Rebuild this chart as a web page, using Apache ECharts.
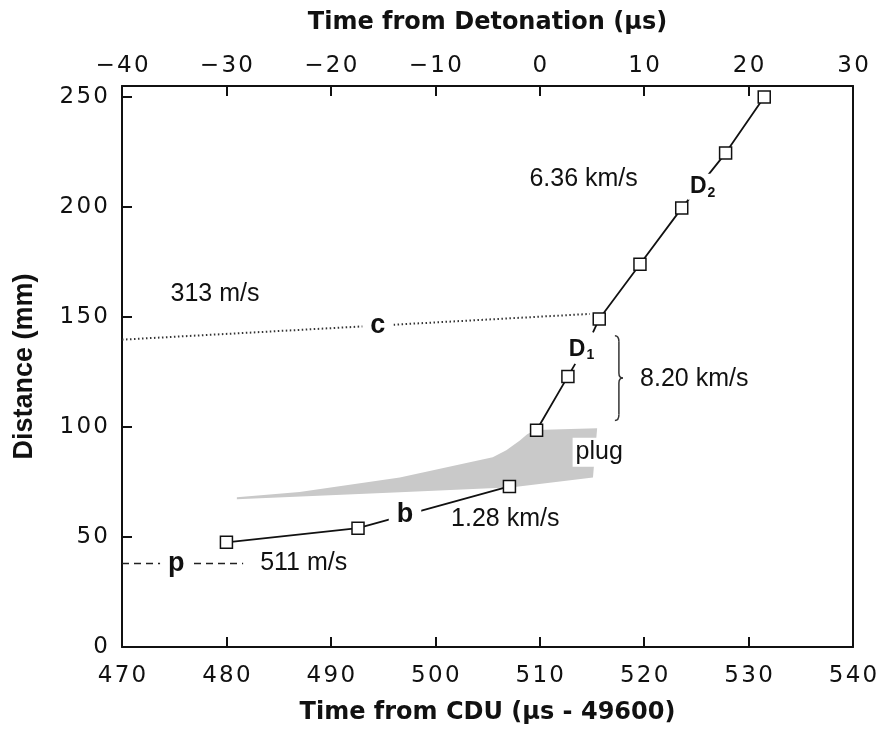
<!DOCTYPE html>
<html>
<head>
<meta charset="utf-8">
<script src="https://cdn.jsdelivr.net/npm/echarts@6/dist/echarts.min.js"></script>
<style>
  html, body { margin: 0; background: #fff; }
  #chart { width: 882px; height: 731px; }
</style>
</head>
<body>
<div id="chart"></div>
<script>
// x: time from CDU (us - 49600), y: distance (mm)
const lowX = [480.0, 492.6, 507.1];
const lowY = [47.6, 54.0, 73.0];
// D1 segment, last point is the stub past the square
const d1X = [509.7, 512.7, 513.4];
const d1Y = [98.5, 123.0, 128.7];
// D2 segment, first point is the stub below the square
const d2X = [515.1, 515.7, 519.6, 523.6, 527.8, 531.5];
const d2Y = [143.0, 149.1, 174.0, 199.5, 224.5, 250.0];
// "p" dashed and "c" dotted trajectories
const pX = [470.0, 481.6];
const pY = [38.0, 38.0];
const cX = [470.0, 514.8];
const cY = [139.7, 151.4];
// grey "plug" band, upper edge left->right then lower edge right->left
const plugTopX = [481.0, 487.0, 496.6, 505.5, 506.8, 508.1, 508.8, 509.6, 515.5];
const plugTopY = [68.1, 70.5, 77.1, 86.2, 89.4, 93.9, 96.7, 98.6, 99.4];
const plugBotX = [515.1, 507.4, 496.6, 481.0];
const plugBotY = [77.1, 72.6, 70.3, 67.2];
// brace next to the D1 segment
const braceX = 517.2;
const braceTop = 141.5;
const braceBot = 103.0;
// annotations
const noteText = ['313 m/s', '6.36 km/s', '8.20 km/s', '1.28 km/s', '511 m/s', 'plug'];
const noteX = [478.9, 514.2, 524.8, 506.7, 487.4, 515.7];
const noteY = [160.2, 212.8, 121.6, 58.1, 38.0, 88.5];
const tagText = ['c', 'b', 'p'];
const tagX = [494.5, 497.1, 475.2];
const tagY = [146.1, 60.2, 38.0];
const dText = ['1', '2'];
const dX = [514.0, 525.6];
const dY = [135.2, 209.2];

const ink = '#111';
const spaced = v => String(v).replace('-', '\u2212').split('').join('\u200a');

const chart = echarts.init(document.getElementById('chart'));

const axisCommon = {
  type: 'value',
  axisLine: { onZero: false, lineStyle: { color: ink, width: 2 } },
  axisTick: { inside: true, length: 10, lineStyle: { color: ink, width: 2 } },
  splitLine: { show: false },
  nameLocation: 'middle',
  nameTextStyle: { fontFamily: 'DejaVu Sans', fontWeight: 'bold', fontSize: 24, color: ink }
};
const labelCommon = { fontFamily: 'DejaVu Sans', fontSize: 23, color: ink, margin: 12, formatter: spaced };

const square = { color: '#fff', borderColor: ink, borderWidth: 1.5 };
const pathLine = { color: ink, width: 1.8 };

// text annotations drawn at data coordinates
function textSeries(xs, ys, makeStyle) {
  return {
    type: 'custom', silent: true, z: 5,
    data: xs.map((x, i) => [x, ys[i]]),
    encode: { x: 0, y: 1 },
    renderItem: (params, api) => {
      const pt = api.coord([api.value(0), api.value(1)]);
      return {
        type: 'text', x: pt[0], y: pt[1],
        style: Object.assign({ align: 'center', verticalAlign: 'middle', fill: ink }, makeStyle(params.dataIndex))
      };
    }
  };
}

const option = {
  animation: false,
  backgroundColor: '#fff',
  grid: { left: 122, right: 29, top: 86, bottom: 84 },
  xAxis: [
    Object.assign({}, axisCommon, {
      position: 'bottom', min: 470, max: 540, interval: 10,
      name: 'Time from CDU (\u00b5s - 49600)', nameGap: 54,
      axisLabel: Object.assign({}, labelCommon, { margin: 18 })
    }),
    Object.assign({}, axisCommon, {
      position: 'top', min: -40, max: 30, interval: 10,
      name: 'Time from Detonation (\u00b5s)', nameGap: 51,
      axisLabel: Object.assign({}, labelCommon, { margin: 8 })
    })
  ],
  yAxis: [
    Object.assign({}, axisCommon, {
      position: 'left', min: 0, max: 255, interval: 50,
      name: 'Distance (mm)', nameGap: 84,
      nameTextStyle: { fontFamily: 'Liberation Sans', fontWeight: 'bold', fontSize: 27, color: ink },
      axisLabel: Object.assign({}, labelCommon, {
        margin: 14,
        formatter: v => (v % 50 === 0 ? spaced(v) : '')
      })
    }),
    {
      type: 'value', position: 'right', min: 0, max: 255,
      axisLine: { show: true, onZero: false, lineStyle: { color: ink, width: 2 } },
      axisTick: { show: false }, axisLabel: { show: false }, splitLine: { show: false }
    }
  ],
  series: [
    {
      // plug band
      type: 'custom', silent: true, z: 1,
      data: [[plugTopX[0], plugTopY[0]]],
      renderItem: (params, api) => {
        const pts = plugTopX.map((x, i) => api.coord([x, plugTopY[i]]))
          .concat(plugBotX.map((x, i) => api.coord([x, plugBotY[i]])));
        return { type: 'polygon', shape: { points: pts }, style: { fill: '#c9c9c9' } };
      }
    },
    {
      type: 'line', z: 2, symbol: 'none',
      data: pX.map((x, i) => [x, pY[i]]),
      lineStyle: { color: '#222', width: 1.5, type: [7, 5] }
    },
    {
      type: 'line', z: 2, symbol: 'none',
      data: cX.map((x, i) => [x, cY[i]]),
      lineStyle: { color: '#333', width: 2, type: [1.5, 2.5] }
    },
    {
      type: 'line', z: 3, symbol: 'rect', symbolSize: 12,
      data: lowX.map((x, i) => [x, lowY[i]]),
      lineStyle: pathLine, itemStyle: square
    },
    {
      type: 'line', z: 3, symbol: 'rect', symbolSize: 12,
      data: d1X.map((x, i) => ({ value: [x, d1Y[i]], symbol: i === d1X.length - 1 ? 'none' : 'rect' })),
      lineStyle: pathLine, itemStyle: square
    },
    {
      type: 'line', z: 3, symbol: 'rect', symbolSize: 12,
      data: d2X.map((x, i) => ({ value: [x, d2Y[i]], symbol: i === 0 ? 'none' : 'rect' })),
      lineStyle: pathLine, itemStyle: square
    },
    {
      // brace for the 8.20 km/s segment
      type: 'custom', silent: true, z: 3,
      data: [[braceX, braceTop, braceBot]],
      encode: { x: 0, y: [1, 2] },
      renderItem: (params, api) => {
        const a = api.coord([api.value(0), api.value(1)]);
        const b = api.coord([api.value(0), api.value(2)]);
        const x = a[0], y1 = a[1], y2 = b[1], ym = (y1 + y2) / 2, w = 4;
        const st = { stroke: '#333', lineWidth: 1.5, fill: null };
        return {
          type: 'group',
          children: [
            { type: 'bezierCurve', shape: { x1: x, y1: y1, cpx1: x + w, cpy1: y1, x2: x + w, y2: y1 + 6 }, style: st },
            { type: 'line', shape: { x1: x + w, y1: y1 + 6, x2: x + w, y2: ym - 5 }, style: st },
            { type: 'bezierCurve', shape: { x1: x + w, y1: ym - 5, cpx1: x + w, cpy1: ym, x2: x + 2 * w, y2: ym }, style: st },
            { type: 'bezierCurve', shape: { x1: x + 2 * w, y1: ym, cpx1: x + w, cpy1: ym, x2: x + w, y2: ym + 5 }, style: st },
            { type: 'line', shape: { x1: x + w, y1: ym + 5, x2: x + w, y2: y2 - 6 }, style: st },
            { type: 'bezierCurve', shape: { x1: x + w, y1: y2 - 6, cpx1: x + w, cpy1: y2, x2: x, y2: y2 }, style: st }
          ]
        };
      }
    },
    // speed notes
    textSeries(noteX, noteY, i => ({
      text: noteText[i],
      font: '25px "Liberation Sans"',
      backgroundColor: noteText[i] === 'plug' ? '#fff' : null,
      padding: noteText[i] === 'plug' ? [2, 3] : 0
    })),
    // trajectory letters sitting on the lines
    textSeries(tagX, tagY, i => ({
      text: tagText[i],
      font: 'bold 27px "Liberation Sans"',
      backgroundColor: '#fff',
      padding: [0, 8]
    })),
    // D1 / D2
    textSeries(dX, dY, i => ({
      text: '{d|D}{s|' + dText[i] + '}',
      backgroundColor: '#fff',
      padding: [0, 2],
      rich: {
        d: { font: 'bold 23px "Liberation Sans"', fill: ink, lineHeight: 26 },
        s: { font: 'bold 14px "Liberation Sans"', fill: ink, lineHeight: 16, padding: [12, 0, 0, 1] }
      }
    }))
  ]
};

chart.setOption(option);
</script>
</body>
</html>
